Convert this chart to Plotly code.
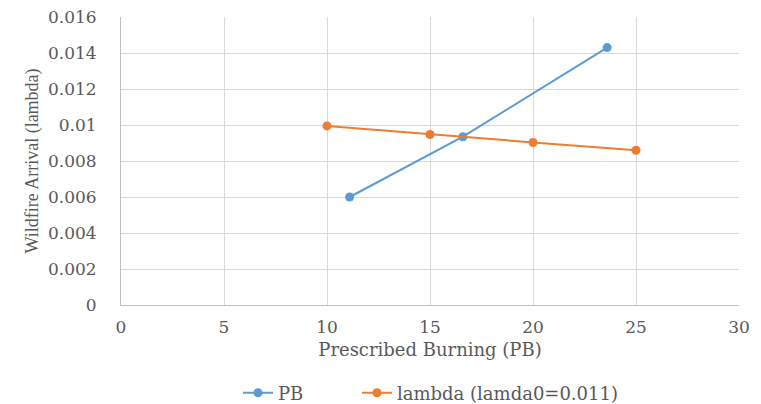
import plotly.graph_objects as go

pb_x = [11.1, 16.6, 23.6]
pb_y = [0.0060, 0.00935, 0.0143]
lam_x = [10, 15, 20, 25]
lam_y = [0.00995, 0.00947, 0.00903, 0.0086]
x_ticks = [0, 5, 10, 15, 20, 25, 30]
y_ticks = [0, 0.002, 0.004, 0.006, 0.008, 0.01, 0.012, 0.014, 0.016]
y_tick_text = ["0", "0.002", "0.004", "0.006", "0.008", "0.01", "0.012", "0.014", "0.016"]

WIDE = "DejaVu Serif"
SERIF = "Liberation Serif"
GRAY = "#595959"

fig = go.Figure()
fig.add_trace(go.Scatter(x=pb_x, y=pb_y, mode="lines+markers", name="PB",
                         line=dict(color="#5B9BD5", width=2),
                         marker=dict(color="#5B9BD5", size=9), legend="legend"))
fig.add_trace(go.Scatter(x=lam_x, y=lam_y, mode="lines+markers", name="lambda (lamda0=0.011)",
                         line=dict(color="#ED7D31", width=2),
                         marker=dict(color="#ED7D31", size=9), legend="legend2"))

leg_common = dict(orientation="h", xanchor="left", xref="paper",
                  yref="container", y=11/404, yanchor="middle",
                  font=dict(family=WIDE, size=18, color=GRAY))

fig.update_layout(
    width=761, height=404,
    margin=dict(l=121, r=22, t=17, b=99, autoexpand=False),
    paper_bgcolor="white", plot_bgcolor="white",
    font=dict(family=SERIF, size=18, color=GRAY),
    showlegend=True,
    legend=dict(x=(238 - 121) / 618, **leg_common),
    legend2=dict(x=(357 - 121) / 618, **leg_common),
    xaxis=dict(range=[0, 30], tickvals=x_ticks, showgrid=True, gridcolor="#d9d9d9",
               gridwidth=1, zeroline=False, showline=True, linecolor="#bfbfbf",
               ticks="", ticklabelstandoff=7,
               tickfont=dict(family=WIDE, size=17, color=GRAY),
               title=dict(text="Prescribed Burning (PB)", standoff=6,
                          font=dict(family=WIDE, size=18, color=GRAY))),
    yaxis=dict(range=[0, 0.016], tickvals=y_ticks, ticktext=y_tick_text, showgrid=True,
               gridcolor="#d9d9d9", gridwidth=1, zeroline=False, showline=True,
               linecolor="#bfbfbf", ticks="", ticklabelstandoff=20,
               tickfont=dict(family=WIDE, size=17, color=GRAY),
               title=dict(text="Wildfire Arrival (lambda)", standoff=4,
                          font=dict(family=SERIF, size=18, color=GRAY))),
)

fig.write_html("out.html")
